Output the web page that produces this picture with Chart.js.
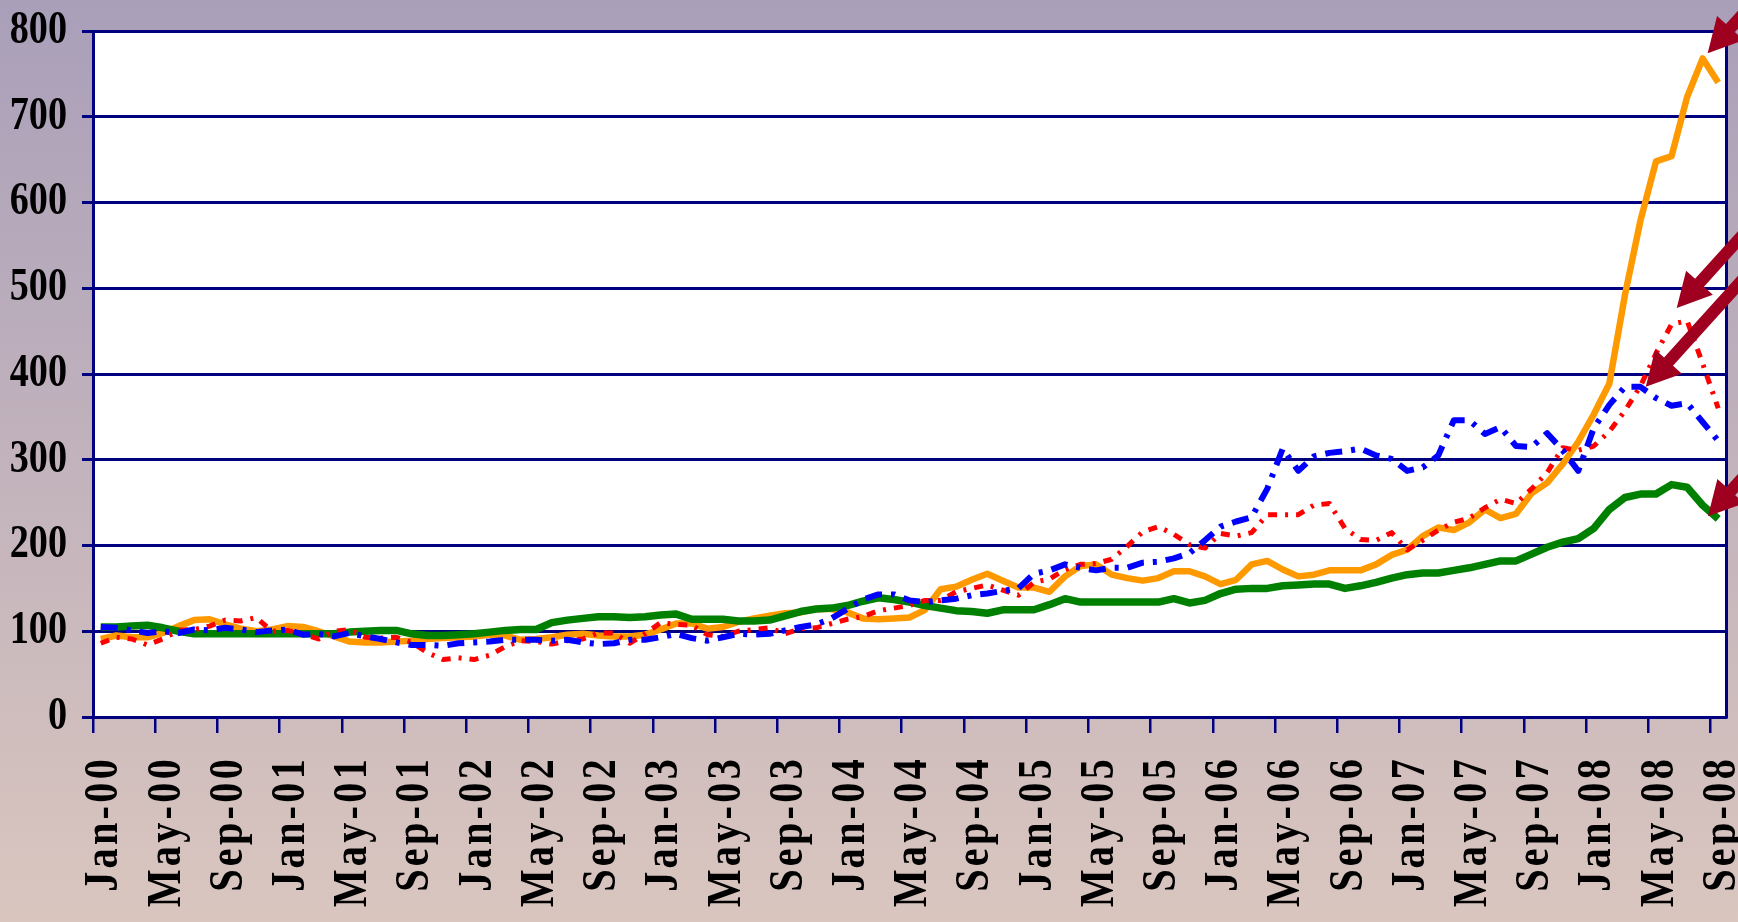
<!DOCTYPE html>
<html>
<head>
<meta charset="utf-8">
<script src="https://cdn.jsdelivr.net/npm/chart.js@4.4.1/dist/chart.umd.min.js"></script>
<style>
html,body{margin:0;padding:0;background:#c4b6c0;overflow:hidden}
canvas{display:block}
</style>
</head>
<body>
<canvas id="c" width="1738" height="922"></canvas>
<script>
const categories = [
  'Jan-00','Feb-00','Mar-00','Apr-00','May-00','Jun-00','Jul-00','Aug-00','Sep-00','Oct-00','Nov-00','Dec-00',
  'Jan-01','Feb-01','Mar-01','Apr-01','May-01','Jun-01','Jul-01','Aug-01','Sep-01','Oct-01','Nov-01','Dec-01',
  'Jan-02','Feb-02','Mar-02','Apr-02','May-02','Jun-02','Jul-02','Aug-02','Sep-02','Oct-02','Nov-02','Dec-02',
  'Jan-03','Feb-03','Mar-03','Apr-03','May-03','Jun-03','Jul-03','Aug-03','Sep-03','Oct-03','Nov-03','Dec-03',
  'Jan-04','Feb-04','Mar-04','Apr-04','May-04','Jun-04','Jul-04','Aug-04','Sep-04','Oct-04','Nov-04','Dec-04',
  'Jan-05','Feb-05','Mar-05','Apr-05','May-05','Jun-05','Jul-05','Aug-05','Sep-05','Oct-05','Nov-05','Dec-05',
  'Jan-06','Feb-06','Mar-06','Apr-06','May-06','Jun-06','Jul-06','Aug-06','Sep-06','Oct-06','Nov-06','Dec-06',
  'Jan-07','Feb-07','Mar-07','Apr-07','May-07','Jun-07','Jul-07','Aug-07','Sep-07','Oct-07','Nov-07','Dec-07',
  'Jan-08','Feb-08','Mar-08','Apr-08','May-08','Jun-08','Jul-08','Aug-08','Sep-08'
];

const orangeSeries = [
  91,95,93,93,98,106,113,114,108,103,100,102,106,105,100,94,88,87,87,88,89,91,92,93,94,96,
  95,90,91,93,96,97,95,94,94,96,102,109,109,103,105,111,115,118,121,122,126,126,122,115,114,115,
  116,125,149,152,160,167,159,151,151,146,164,176,178,166,162,159,162,170,170,164,155,160,178,182,172,164,
  166,171,171,171,178,189,195,211,221,218,227,242,232,237,261,273,295,321,353,389,492,579,648,654,723,768,740
];

const greenSeries = [
  105,105,106,107,104,100,97,97,97,97,97,97,97,97,97,97,99,100,101,101,97,95,95,96,97,99,
  101,102,102,110,113,115,117,117,116,117,119,120,114,114,114,112,112,113,118,123,126,127,130,135,139,137,
  134,130,127,124,123,121,125,125,125,131,138,134,134,134,134,134,134,138,133,136,144,149,150,150,153,154,
  155,155,150,153,157,162,166,168,168,171,174,178,182,182,190,198,204,208,220,242,256,260,260,271,268,247,231
];

const blueSeries = [
  105,104,101,98,100,98,102,101,104,102,99,101,102,96,97,94,98,94,91,87,84,84,83,86,87,88,
  90,90,90,89,90,87,85,86,90,90,93,97,92,89,93,97,96,97,101,105,108,115,126,137,143,143,
  136,134,136,138,142,144,147,150,167,171,178,174,171,174,174,180,181,185,191,206,222,228,233,266,313,287,
  304,308,310,313,305,301,287,291,305,346,346,330,338,316,315,331,311,287,337,364,385,385,372,363,366,344,322
];

const redSeries = [
  86,93,91,84,91,101,102,106,113,112,116,100,101,97,91,100,102,93,92,93,87,75,67,69,67,72,
  82,89,88,85,89,91,98,98,86,97,110,108,107,96,94,100,102,104,97,103,104,109,114,117,124,127,
  130,136,136,146,150,154,148,142,157,161,172,178,179,184,199,216,222,213,201,197,214,211,215,236,236,236,
  247,249,220,207,206,215,195,206,218,227,232,244,254,249,266,285,314,311,316,333,357,386,424,458,462,412,360
];

const yTickValues = [0,100,200,300,400,500,600,700,800];

// arrow tips, in data coordinates (category index, value)
const arrowTargets = [
  {x: 103.32, y: 774},
  {x: 101.33, y: 477},
  {x: 99.34,  y: 385},
  {x: 103.34, y: 234}
];

const NAVY = '#000080';
const W = 1738, H = 922;
const SERIF = '"Liberation Serif", "Times New Roman", Times, serif';

function patchScales(chart) {
  const sy = chart.scales.y;
  if (sy && !sy.__patched) {
    const orig = sy.drawLabels;
    sy._computeLabelArea = function () { return undefined; };
    sy.drawLabels = function (area) {
      const c = this.ctx;
      const ax = this.right - this.options.grid.tickLength - this.options.ticks.padding;
      c.save();
      c.translate(ax, 0);
      c.scale(0.83, 1);
      c.translate(-ax, 0);
      orig.call(this, area);
      c.restore();
    };
    sy.__patched = true;
  }
  const sx = chart.scales.x;
  if (sx && !sx.__patched) {
    const origX = sx.drawLabels;
    sx._computeLabelArea = function () { return undefined; };
    sx.drawLabels = function (area) {
      const c = this.ctx;
      const ay = this.top + this.options.grid.tickLength + this.options.ticks.padding;
      c.save();
      c.translate(0, ay);
      c.scale(1, 0.82);
      c.translate(0, -ay);
      try { c.letterSpacing = '4px'; } catch (e) {}
      origX.call(this, area);
      c.restore();
    };
    sx.__patched = true;
  }
}

const decorPlugin = {
  id: 'decor',
  beforeDraw(chart) {
    const {ctx, chartArea: a} = chart;
    ctx.save();
    const g = ctx.createLinearGradient(0, 0, 0, H);
    g.addColorStop(0, '#A99FB9');
    g.addColorStop(1, '#DAC6BF');
    ctx.fillStyle = g;
    ctx.fillRect(0, 0, W, H);
    ctx.fillStyle = '#FFFFFF';
    ctx.fillRect(a.left, a.top, a.right - a.left, a.bottom - a.top);
    ctx.restore();
    patchScales(chart);
  },
  afterDraw(chart) {
    const {ctx, scales: {x, y}} = chart;
    const len = Math.hypot(0.67, 0.742);
    const dx = 0.67 / len, dy = -0.742 / len;
    const px = -dy, py = dx;
    const headLen = 34, headHalf = 18, shaftHalf = 6, shaftLen = 240;
    ctx.save();
    ctx.fillStyle = '#A00020';
    for (const t of arrowTargets) {
      const tx = x.getPixelForValue(t.x);
      const ty = y.getPixelForValue(t.y);
      const bx = tx + dx * headLen, by = ty + dy * headLen;
      ctx.beginPath();
      ctx.moveTo(tx, ty);
      ctx.lineTo(bx + px * headHalf, by + py * headHalf);
      ctx.lineTo(bx + px * shaftHalf, by + py * shaftHalf);
      ctx.lineTo(bx + px * shaftHalf + dx * shaftLen, by + py * shaftHalf + dy * shaftLen);
      ctx.lineTo(bx - px * shaftHalf + dx * shaftLen, by - py * shaftHalf + dy * shaftLen);
      ctx.lineTo(bx - px * shaftHalf, by - py * shaftHalf);
      ctx.lineTo(bx - px * headHalf, by - py * headHalf);
      ctx.closePath();
      ctx.fill();
    }
    ctx.restore();
  }
};

new Chart(document.getElementById('c'), {
  type: 'line',
  data: {
    labels: categories,
    datasets: [
      {label: 'Blue', data: blueSeries, borderColor: '#0000FF', borderWidth: 6, borderDash: [17, 9, 4, 9], order: 1},
      {label: 'Red', data: redSeries, borderColor: '#FF0000', borderWidth: 5, borderDash: [9, 8, 3, 8], order: 2},
      {label: 'Green', data: greenSeries, borderColor: '#008000', borderWidth: 7.5, order: 3},
      {label: 'Orange', data: orangeSeries, borderColor: '#FF9900', borderWidth: 6.5, order: 4}
    ]
  },
  options: {
    responsive: false,
    animation: false,
    devicePixelRatio: 1,
    events: [],
    layout: {padding: {top: 31, left: 0, right: 0, bottom: 0}},
    elements: {
      point: {radius: 0, hoverRadius: 0},
      line: {tension: 0, fill: false, borderJoinStyle: 'round', borderCapStyle: 'butt'}
    },
    plugins: {legend: {display: false}, tooltip: {enabled: false}},
    scales: {
      x: {
        type: 'category',
        offset: true,
        grid: {
          offset: true,
          drawOnChartArea: false,
          drawTicks: true,
          tickLength: 16,
          tickWidth: 2.5,
          lineWidth: 2.5,
          color: (c) => (c.index % 4 === 0 ? NAVY : 'rgba(0,0,0,0)'),
          tickColor: (c) => (c.index % 4 === 0 ? NAVY : 'rgba(0,0,0,0)')
        },
        border: {display: true, color: NAVY, width: 3},
        ticks: {
          autoSkip: false,
          maxRotation: 90,
          minRotation: 90,
          padding: 23,
          labelOffset: 4,
          color: '#000000',
          font: {family: SERIF, size: 49, weight: 'bold'},
          callback: (v, i) => (i % 4 === 0 ? categories[i] : '')
        },
        afterFit: (s) => { s.height = 205; s.paddingLeft = 0; s.paddingRight = 0; }
      },
      y: {
        type: 'linear',
        min: 0,
        max: 800,
        afterBuildTicks: (s) => { s.ticks = yTickValues.map(v => ({value: v})); },
        grid: {color: NAVY, lineWidth: 3, drawTicks: true, tickLength: 11},
        border: {display: true, color: NAVY, width: 3},
        ticks: {padding: 15, color: '#000000', font: {family: SERIF, size: 46, weight: 'bold'}},
        afterFit: (s) => { s.width = 93; s.paddingTop = 0; s.paddingBottom = 0; }
      },
      y2: {
        type: 'linear',
        position: 'right',
        display: true,
        grid: {display: false, drawTicks: false},
        ticks: {display: false},
        border: {display: true, color: NAVY, width: 3},
        afterFit: (s) => { s.width = 12; s.paddingTop = 0; s.paddingBottom = 0; }
      }
    }
  },
  plugins: [decorPlugin]
});
</script>
</body>
</html>
